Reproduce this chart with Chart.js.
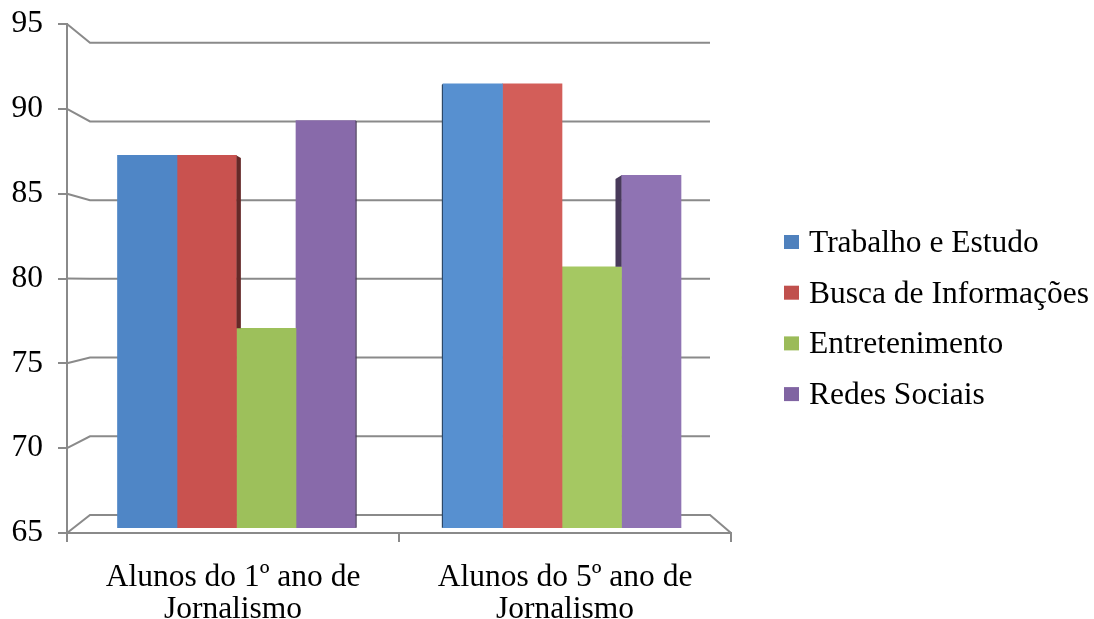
<!DOCTYPE html>
<html lang="pt">
<head>
<meta charset="utf-8">
<title>Uso da Internet por alunos de Jornalismo</title>
<script src="https://cdn.jsdelivr.net/npm/chart.js@4.4.1/dist/chart.umd.min.js"></script>
<style>
  html, body { margin: 0; padding: 0; background: #fff; }
  canvas { display: block; }
</style>
</head>
<body>
<canvas id="c" width="1094" height="619"></canvas>
<script>
// Categories (two-line labels) and the four series
const categories = [['Alunos do 1º ano de', 'Jornalismo'], ['Alunos do 5º ano de', 'Jornalismo']];
const seriesNames = ['Trabalho e Estudo', 'Busca de Informações', 'Entretenimento', 'Redes Sociais'];
const trabalhoEstudo   = [87.4, 91.7];
const buscaInformacoes = [87.4, 91.7];
const entretenimento   = [77.0, 80.7];
const redesSociais     = [89.5, 86.2];
const yTicks = [65, 70, 75, 80, 85, 90, 95];

const seriesValues = [trabalhoEstudo, buscaInformacoes, entretenimento, redesSociais];
const barColors = [
  ['#4F86C6', '#5790D0'],
  ['#C9524F', '#D35E59'],
  ['#9DC05B', '#A5C862'],
  ['#886AAA', '#8F73B3']
];
const legendColors = ['#4F81BD', '#C0504D', '#9BBB59', '#8064A2'];

const FONT = "'Liberation Serif', 'Times New Roman', serif";
const GRID = '#8a8a8a';
Chart.defaults.font.family = FONT;
Chart.defaults.color = '#000';

function shade(hex, f) {
  const n = parseInt(hex.slice(1), 16);
  const r = Math.round(((n >> 16) & 255) * f);
  const g = Math.round(((n >> 8) & 255) * f);
  const b = Math.round((n & 255) * f);
  return `rgb(${r},${g},${b})`;
}

// Side wall and back wall gridlines of the 3D frame
const wallPlugin = {
  id: 'wall',
  beforeDatasetsDraw(chart) {
    const { ctx, chartArea: a, scales } = chart;
    const yf = scales.y, yw = scales.yw;
    const backL = a.left + 23, backR = a.right - 21;
    ctx.save();
    ctx.strokeStyle = GRID;
    ctx.lineWidth = 2;
    yTicks.forEach((v, i) => {
      const fy = yf.getPixelForValue(v), by = yw.getPixelForValue(v);
      ctx.beginPath();
      ctx.moveTo(a.left, fy);
      ctx.lineTo(backL, by);
      ctx.lineTo(backR, by);
      if (i === 0) ctx.lineTo(a.right, fy);
      ctx.stroke();
    });
    ctx.restore();
  }
};

// Dark side faces of the columns, visible where the neighbour is shorter
const facePlugin = {
  id: 'faces',
  afterDatasetsDraw(chart) {
    const { ctx, chartArea: a } = chart;
    const cx = (a.left + a.right) / 2;
    const n = chart.data.datasets.length;
    ctx.save();
    for (let i = 0; i < n; i++) {
      const meta = chart.getDatasetMeta(i);
      meta.data.forEach((bar, j) => {
        const p = bar.getProps(['x', 'y', 'base', 'width'], true);
        const toRight = p.x < cx;
        const edge = toRight ? p.x + p.width / 2 : p.x - p.width / 2;
        const w = 0.027 * Math.abs(edge - cx);
        const ni = toRight ? i + 1 : i - 1;
        let bottom = p.base;
        if (ni >= 0 && ni < n) {
          const nb = chart.getDatasetMeta(ni).data[j].getProps(['y'], true);
          if (nb.y <= p.y + 0.5) return;
          bottom = nb.y;
        }
        const s = toRight ? 1 : -1;
        ctx.fillStyle = shade(chart.data.datasets[i].backgroundColor[j], 0.5);
        ctx.beginPath();
        ctx.moveTo(edge, p.y);
        ctx.lineTo(edge + s * w, p.y + w * 0.6);
        ctx.lineTo(edge + s * w, bottom);
        ctx.lineTo(edge, bottom);
        ctx.closePath();
        ctx.fill();
      });
    }
    ctx.restore();
  }
};

// Legend at the right of the plot
const legendPlugin = {
  id: 'sideLegend',
  afterDraw(chart) {
    const { ctx, chartArea: a } = chart;
    const x0 = a.right + 53, y0 = 242, step = 50.7;
    ctx.save();
    ctx.font = `31.5px ${FONT}`;
    ctx.textBaseline = 'alphabetic';
    chart.data.datasets.forEach((ds, i) => {
      const cy = y0 + i * step;
      ctx.fillStyle = ds.legendColor;
      ctx.fillRect(x0, cy - 7, 15, 14);
      ctx.fillStyle = '#000';
      ctx.fillText(ds.label, x0 + 25, cy + 10);
    });
    ctx.restore();
  }
};

const datasets = seriesNames.map((name, i) => ({
  label: name,
  data: seriesValues[i].map((v, k) => ({ x: k, y: v })),
  backgroundColor: barColors[i],
  legendColor: legendColors[i],
  borderWidth: 0,
  base: 65,
  barThickness: 59.5,
  xAxisID: 'xb',
  yAxisID: 'yb'
}));

new Chart(document.getElementById('c'), {
  type: 'bar',
  data: { labels: categories, datasets },
  options: {
    responsive: false,
    animation: false,
    devicePixelRatio: 1,
    layout: { padding: { top: 24, right: 363, bottom: 0, left: 0 } },
    plugins: { legend: { display: false }, tooltip: { enabled: false } },
    scales: {
      x: {
        type: 'category',
        position: 'bottom',
        offset: true,
        grid: { offset: true, drawOnChartArea: false, tickLength: 9, color: GRID, lineWidth: 2 },
        border: { color: GRID, width: 2 },
        ticks: { font: { size: 31.5, lineHeight: 1.0 }, color: '#000', padding: 20, maxRotation: 0, autoSkip: false },
        afterFit(s) { s.height = 86; s.paddingLeft = 0; s.paddingRight = 0; }
      },
      y: {
        type: 'linear',
        position: 'left',
        min: 65,
        max: 95,
        afterBuildTicks(s) { s.ticks = yTicks.map(v => ({ value: v })); },
        grid: { drawOnChartArea: false, tickLength: 9, color: GRID, lineWidth: 2 },
        border: { color: GRID, width: 2 },
        ticks: { font: { size: 31.5 }, color: '#000', padding: 15 },
        afterFit(s) { s.width = 67; s.paddingTop = 0; s.paddingBottom = 0; }
      },
      xb: { type: 'linear', axis: 'x', display: false, offset: false, min: -0.5207, max: 1.5192,
            grid: { offset: false } },
      yb: { type: 'linear', axis: 'y', display: false, beginAtZero: false, min: 64.681, max: 95.307 },
      yw: { type: 'linear', axis: 'y', display: false, beginAtZero: false, min: 63.857, max: 96.189 }
    }
  },
  plugins: [wallPlugin, facePlugin, legendPlugin]
});
</script>
</body>
</html>
